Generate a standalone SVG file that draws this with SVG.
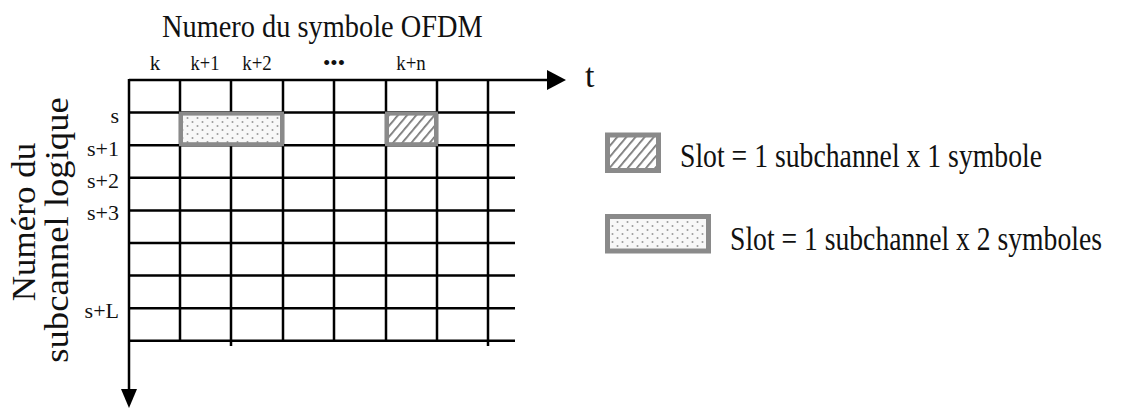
<svg xmlns="http://www.w3.org/2000/svg" width="1125" height="410" viewBox="0 0 1125 410">
<style>
.g{stroke:#000;stroke-width:2.5;fill:none}
.t{font-family:"Liberation Serif","Times New Roman",serif;fill:#111}
.slot{stroke:#8a8a8a;stroke-width:4}
</style>
<defs>
<pattern id="hatch" width="7" height="7" patternUnits="userSpaceOnUse" patternTransform="rotate(40)">
<rect width="7" height="7" fill="#fff"/>
<line x1="0" y1="0" x2="0" y2="7" stroke="#777" stroke-width="3.5"/>
</pattern>
<pattern id="dots" width="10" height="8" patternUnits="userSpaceOnUse">
<rect width="10" height="8" fill="#f7f7f7"/>
<circle cx="2.5" cy="2" r="1" fill="#9a9a9a"/>
<circle cx="7.5" cy="6" r="1" fill="#9a9a9a"/>
</pattern>
</defs>
<rect width="1125" height="410" fill="#fff"/>
<text class="t" font-size="32" transform="matrix(0.887 0 0 1 162 37)">Numero du symbole OFDM</text>
<g id="col-labels" class="t" font-size="21" text-anchor="middle">
<text x="155" y="70">k</text>
<text transform="matrix(0.88 0 0 1 205 70)">k+1</text>
<text transform="matrix(0.9 0 0 1 257 70)">k+2</text>
<text x="334" y="70">•••</text>
<text transform="matrix(0.9 0 0 1 411 70)">k+n</text>
</g>
<text class="t" x="585" y="87" font-size="34">t</text>
<g id="row-labels" class="t" font-size="22" text-anchor="end">
<text x="119" y="123">s</text>
<text x="119" y="156">s+1</text>
<text x="119" y="188">s+2</text>
<text x="119" y="220">s+3</text>
<text x="119" y="318">s+L</text>
</g>
<g id="axis-label" class="t" font-size="33" text-anchor="middle">
<text transform="translate(35,222) rotate(-90) scale(1.06,1)">Numéro du</text>
<text transform="translate(68,230) rotate(-90) scale(1.11,1)">subcannel logique</text>
</g>
<g id="grid" class="g">
<path d="M129 112.6H515M129 145.2H515M129 177.8H515M129 210.4H515M129 243H515M129 275.6H515M129 308.2H515M129 340.8H515"/>
<path d="M180 80V341M231 80V346M283 80V341M334 80V341M386 80V341M437 80V341M488 80V346"/>
</g>
<g id="slots">
<rect id="slot2" class="slot" x="181" y="113.6" width="101" height="30.6" fill="url(#dots)"/>
<rect id="slot1" class="slot" x="387" y="113.6" width="49" height="30.6" fill="url(#hatch)"/>
</g>
<g id="connectors">
<line x1="129" y1="80" x2="551" y2="80" class="g"/>
<polygon points="547,70 566,80 547,90" fill="#000"/>
<line x1="129" y1="79" x2="129" y2="392" class="g"/>
<polygon points="121,389 137,389 129,408" fill="#000"/>
</g>
<g id="legend1">
<rect x="607.5" y="135" width="51" height="35.5" fill="url(#hatch)" stroke="#8a8a8a" stroke-width="5"/>
<text class="t" font-size="33" transform="matrix(0.84 0 0 1 680 167)">Slot = 1 subchannel x 1 symbole</text>
</g>
<g id="legend2">
<rect x="607.5" y="216.5" width="101" height="34.5" fill="url(#dots)" stroke="#8a8a8a" stroke-width="5"/>
<text class="t" font-size="33" transform="matrix(0.838 0 0 1 730 250)">Slot = 1 subchannel x 2 symboles</text>
</g>
</svg>
